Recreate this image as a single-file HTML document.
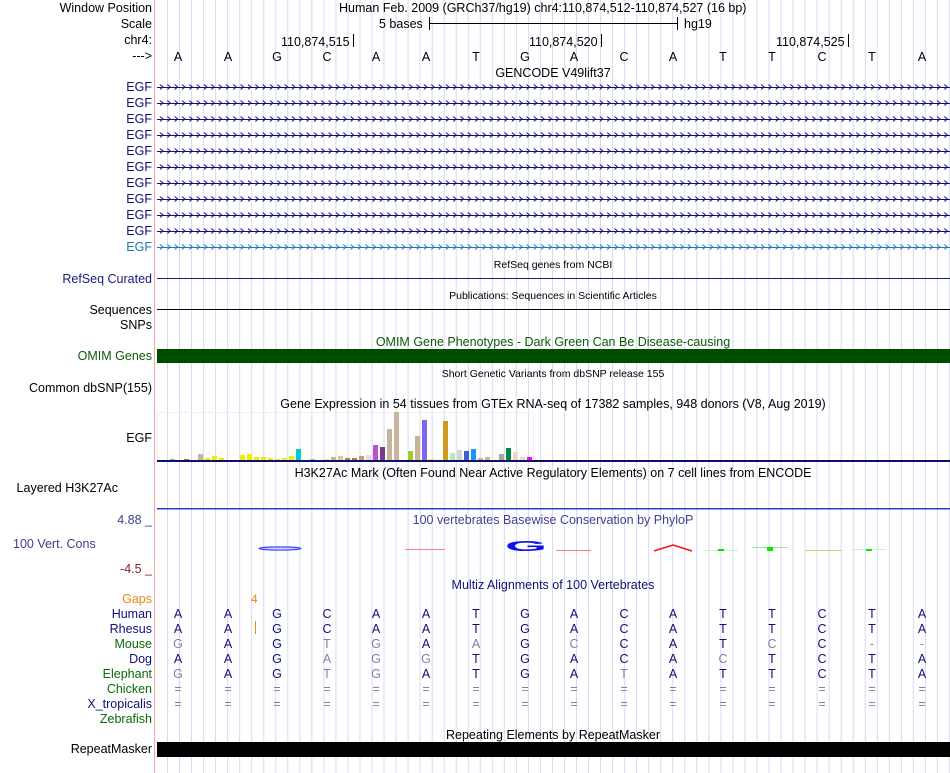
<!DOCTYPE html>
<html><head><meta charset="utf-8"><style>
html,body{margin:0;padding:0;background:#fff;}
svg{display:block;font-family:"Liberation Sans",sans-serif;}
</style></head><body>
<svg width="950" height="773" viewBox="0 0 950 773" xmlns="http://www.w3.org/2000/svg">
<defs>
<pattern id="grid" x="167" y="0" width="12.03" height="10" patternUnits="userSpaceOnUse">
<rect x="0" y="0" width="1" height="10" fill="#d8d8f4"/>
</pattern>
<pattern id="chevA" x="158" y="0" width="7.33" height="16" patternUnits="userSpaceOnUse">
<path d="M2,4.5 L5,7 L2,9.5" fill="none" stroke="#101078" stroke-width="1"/>
</pattern>
<pattern id="chevB" x="158" y="0" width="7.33" height="16" patternUnits="userSpaceOnUse">
<path d="M2,4.5 L5,7 L2,9.5" fill="none" stroke="#1f78b4" stroke-width="1"/>
</pattern>
</defs>
<rect x="157" y="0" width="793" height="773" fill="url(#grid)"/>
<rect x="154" y="0" width="1" height="773" fill="#f4a8a8"/>

<g font-size="12.5" fill="#000" text-anchor="end">
<text x="152" y="12">Window Position</text>
<text x="152" y="28">Scale</text>
<text x="152" y="44">chr4:</text>
<text x="152" y="60">---&gt;</text>
</g>
<g font-size="12.5" fill="#000">
<text x="339" y="12">Human Feb. 2009 (GRCh37/hg19)   chr4:110,874,512-110,874,527 (16 bp)</text>
<text x="379" y="28">5 bases</text>
<text x="684" y="28">hg19</text>
<text x="281" y="46">110,874,515</text>
<text x="529" y="46">110,874,520</text>
<text x="776" y="46">110,874,525</text>
</g>
<rect x="429" y="23" width="248" height="1" fill="#000"/>
<rect x="429" y="17" width="1" height="13" fill="#000"/>
<rect x="677" y="17" width="1" height="13" fill="#000"/>
<rect x="353" y="34" width="1" height="13" fill="#000"/>
<rect x="601" y="34" width="1" height="13" fill="#000"/>
<rect x="848" y="34" width="1" height="13" fill="#000"/>
<g font-size="12.5" fill="#000" text-anchor="middle">
<text x="178" y="61">A</text><text x="228" y="61">A</text><text x="277" y="61">G</text><text x="327" y="61">C</text>
<text x="376" y="61">A</text><text x="426" y="61">A</text><text x="476" y="61">T</text><text x="525" y="61">G</text>
<text x="574" y="61">A</text><text x="624" y="61">C</text><text x="673" y="61">A</text><text x="723" y="61">T</text>
<text x="772" y="61">T</text><text x="822" y="61">C</text><text x="872" y="61">T</text><text x="922" y="61">A</text>
<text x="553" y="77">GENCODE V49lift37</text>
</g>

<g font-size="12.5" fill="#101078" text-anchor="end">
<text x="152" y="91">EGF</text><text x="152" y="107">EGF</text><text x="152" y="123">EGF</text>
<text x="152" y="139">EGF</text><text x="152" y="155">EGF</text><text x="152" y="171">EGF</text>
<text x="152" y="187">EGF</text><text x="152" y="203">EGF</text><text x="152" y="219">EGF</text>
<text x="152" y="235">EGF</text><text x="152" y="251" fill="#1f78b4">EGF</text>
</g>
<g fill="#101078">
<rect x="157" y="87" width="793" height="1"/><rect x="157" y="103" width="793" height="1"/>
<rect x="157" y="119" width="793" height="1"/><rect x="157" y="135" width="793" height="1"/>
<rect x="157" y="151" width="793" height="1"/><rect x="157" y="167" width="793" height="1"/>
<rect x="157" y="183" width="793" height="1"/><rect x="157" y="199" width="793" height="1"/>
<rect x="157" y="215" width="793" height="1"/><rect x="157" y="231" width="793" height="1"/>
</g>
<rect x="157" y="247" width="793" height="1" fill="#1f78b4"/>
<rect x="157" y="80" width="793" height="160" fill="url(#chevA)"/>
<rect x="157" y="240" width="793" height="16" fill="url(#chevB)"/>

<text x="553" y="268" font-size="10.5" text-anchor="middle">RefSeq genes from NCBI</text>
<text x="152" y="283" font-size="12.5" fill="#1a1a80" text-anchor="end">RefSeq Curated</text>
<rect x="157" y="278" width="793" height="1" fill="#1a1a80"/>
<text x="553" y="299" font-size="10.5" text-anchor="middle">Publications: Sequences in Scientific Articles</text>
<text x="152" y="314" font-size="12.5" text-anchor="end">Sequences</text>
<rect x="157" y="309" width="793" height="1" fill="#000"/>
<text x="152" y="329" font-size="12.5" text-anchor="end">SNPs</text>
<text x="553" y="346" font-size="12.5" fill="#0a5a0a" text-anchor="middle">OMIM Gene Phenotypes - Dark Green Can Be Disease-causing</text>
<text x="152" y="360" font-size="12.5" fill="#0a5a0a" text-anchor="end">OMIM Genes</text>
<rect x="157" y="349" width="793" height="14" fill="#004d00"/>
<text x="553" y="377" font-size="10.5" text-anchor="middle">Short Genetic Variants from dbSNP release 155</text>
<text x="152" y="392" font-size="12.5" text-anchor="end">Common dbSNP(155)</text>

<text x="553" y="408" font-size="12.5" text-anchor="middle">Gene Expression in 54 tissues from GTEx RNA-seq of 17382 samples, 948 donors (V8, Aug 2019)</text>
<text x="152" y="442" font-size="12.5" text-anchor="end">EGF</text>
<rect x="157.5" y="412.5" width="376" height="48" fill="none" stroke="#f0f0f0" stroke-width="1"/>
<g>
<rect x="170" y="459" width="5" height="1" fill="#8fbc8f"/>
<rect x="184" y="459" width="5" height="1" fill="#e05050"/>
<rect x="198" y="454" width="5" height="6" fill="#c8b49a"/>
<rect x="205" y="458" width="5" height="2" fill="#eeee00"/>
<rect x="212" y="456" width="5" height="4" fill="#eeee00"/>
<rect x="219" y="458" width="5" height="2" fill="#eeee00"/>
<rect x="240" y="455" width="5" height="5" fill="#eeee00"/>
<rect x="247" y="454" width="5" height="6" fill="#eeee00"/>
<rect x="254" y="457" width="5" height="3" fill="#eeee00"/>
<rect x="261" y="457" width="5" height="3" fill="#eeee00"/>
<rect x="268" y="458" width="5" height="2" fill="#eeee00"/>
<rect x="275" y="459" width="5" height="1" fill="#eeee00"/>
<rect x="282" y="458" width="5" height="2" fill="#eeee00"/>
<rect x="289" y="456" width="5" height="4" fill="#eeee00"/>
<rect x="296" y="449" width="5" height="11" fill="#00cdd1"/>
<rect x="310" y="459" width="5" height="1" fill="#90c0c0"/>
<rect x="324" y="459" width="5" height="1" fill="#f0d8d8"/>
<rect x="331" y="457" width="5" height="3" fill="#c8b49a"/>
<rect x="338" y="456" width="5" height="4" fill="#eec591"/>
<rect x="345" y="458" width="5" height="2" fill="#a08060"/>
<rect x="352" y="458" width="5" height="2" fill="#a08060"/>
<rect x="359" y="456" width="5" height="4" fill="#cd9b6e"/>
<rect x="366" y="455" width="5" height="5" fill="#f0d8d8"/>
<rect x="373" y="445" width="5" height="15" fill="#b455d0"/>
<rect x="380" y="447" width="5" height="13" fill="#7a3a8a"/>
<rect x="387" y="429" width="5" height="31" fill="#c8b49a"/>
<rect x="394" y="412" width="5" height="48" fill="#c8b49a"/>
<rect x="408" y="451" width="5" height="9" fill="#9acd32"/>
<rect x="415" y="436" width="5" height="24" fill="#c8b49a"/>
<rect x="422" y="420" width="5" height="40" fill="#7b68ee"/>
<rect x="429" y="459" width="5" height="1" fill="#eeee00"/>
<rect x="443" y="421" width="5" height="39" fill="#cd9b1d"/>
<rect x="450" y="453" width="5" height="7" fill="#b4eeb4"/>
<rect x="457" y="450" width="5" height="10" fill="#d3d3d3"/>
<rect x="464" y="451" width="5" height="9" fill="#3a5fcd"/>
<rect x="471" y="449" width="5" height="11" fill="#1e90ff"/>
<rect x="478" y="458" width="5" height="2" fill="#c8b49a"/>
<rect x="485" y="457" width="5" height="3" fill="#c8b49a"/>
<rect x="499" y="454" width="5" height="6" fill="#a6a6a6"/>
<rect x="506" y="448" width="5" height="12" fill="#008b45"/>
<rect x="513" y="452" width="5" height="8" fill="#eed5d2"/>
<rect x="520" y="457" width="5" height="3" fill="#eed5d2"/>
<rect x="527" y="457" width="5" height="3" fill="#ff00ff"/>
</g>
<rect x="157" y="460" width="793" height="2" fill="#101068"/>

<text x="553" y="477" font-size="12.5" text-anchor="middle">H3K27Ac Mark (Often Found Near Active Regulatory Elements) on 7 cell lines from ENCODE</text>
<text x="118" y="492" font-size="12.5" text-anchor="end">Layered H3K27Ac</text>
<rect x="157" y="508" width="793" height="1.5" fill="#3838c8"/>

<text x="553" y="524" font-size="12.5" fill="#404090" text-anchor="middle">100 vertebrates Basewise Conservation by PhyloP</text>
<text x="152" y="524" font-size="12.5" fill="#404090" text-anchor="end">4.88 _</text>
<text x="13" y="548" font-size="12.5" fill="#404090">100 Vert. Cons</text>
<text x="152" y="573" font-size="12.5" fill="#8b2020" text-anchor="end">-4.5 _</text>
<ellipse cx="280" cy="548.5" rx="21" ry="1.6" fill="#c8d0ff" stroke="#2030ff" stroke-width="1"/>
<rect x="405" y="549" width="40" height="1" fill="#ff8080"/>
<text x="0" y="0" font-size="15" font-weight="bold" fill="#1010ee" transform="translate(505,551) scale(3.6,1)">G</text>
<rect x="556" y="550" width="35" height="1" fill="#ff8080"/>
<path d="M654,551 L673,545 L692,551" fill="none" stroke="#ff1010" stroke-width="1.5"/>
<rect x="703" y="550" width="35" height="1" fill="#c8f5c8"/>
<rect x="718" y="549" width="6" height="2" fill="#00dd00"/>
<rect x="752" y="547" width="36" height="1" fill="#90ee90"/>
<rect x="767" y="547" width="6" height="4" fill="#00ee00"/>
<rect x="805" y="550" width="37" height="1" fill="#d0d070"/>
<rect x="852" y="549" width="34" height="1" fill="#c8f5c8"/>
<rect x="866" y="549" width="6" height="2" fill="#00ee00"/>

<text x="553" y="589" font-size="12.5" fill="#101078" text-anchor="middle">Multiz Alignments of 100 Vertebrates</text>
<g font-size="12.5" text-anchor="end">
<text x="152" y="603" fill="#e88a10">Gaps</text>
<text x="152" y="618" fill="#101078">Human</text>
<text x="152" y="633" fill="#101078">Rhesus</text>
<text x="152" y="648" fill="#0a6a0a">Mouse</text>
<text x="152" y="663" fill="#101078">Dog</text>
<text x="152" y="678" fill="#0a6a0a">Elephant</text>
<text x="152" y="693" fill="#0a6a0a">Chicken</text>
<text x="152" y="708" fill="#101078">X_tropicalis</text>
<text x="152" y="723" fill="#0a6a0a">Zebrafish</text>
</g>
<text x="251" y="603" font-size="12" fill="#e88a10">4</text>
<rect x="255" y="621" width="1" height="13" fill="#e88a10"/>
<g font-size="12.5" text-anchor="middle" fill="#101078">
<g transform="translate(0,618)">
<text x="178">A</text><text x="228">A</text><text x="277">G</text><text x="327">C</text><text x="376">A</text><text x="426">A</text><text x="476">T</text><text x="525">G</text><text x="574">A</text><text x="624">C</text><text x="673">A</text><text x="723">T</text><text x="772">T</text><text x="822">C</text><text x="872">T</text><text x="922">A</text>
</g>
<g transform="translate(0,633)">
<text x="178">A</text><text x="228">A</text><text x="277">G</text><text x="327">C</text><text x="376">A</text><text x="426">A</text><text x="476">T</text><text x="525">G</text><text x="574">A</text><text x="624">C</text><text x="673">A</text><text x="723">T</text><text x="772">T</text><text x="822">C</text><text x="872">T</text><text x="922">A</text>
</g>
<g transform="translate(0,648)">
<text x="178" fill="#8080b0">G</text><text x="228">A</text><text x="277">G</text><text x="327" fill="#8080b0">T</text><text x="376" fill="#8080b0">G</text><text x="426">A</text><text x="476" fill="#8080b0">A</text><text x="525">G</text><text x="574" fill="#8080b0">C</text><text x="624">C</text><text x="673">A</text><text x="723">T</text><text x="772" fill="#8080b0">C</text><text x="822">C</text><text x="872" fill="#8080b0">-</text><text x="922" fill="#8080b0">-</text>
</g>
<g transform="translate(0,663)">
<text x="178">A</text><text x="228">A</text><text x="277">G</text><text x="327" fill="#8080b0">A</text><text x="376" fill="#8080b0">G</text><text x="426" fill="#8080b0">G</text><text x="476">T</text><text x="525">G</text><text x="574">A</text><text x="624">C</text><text x="673">A</text><text x="723" fill="#8080b0">C</text><text x="772">T</text><text x="822">C</text><text x="872">T</text><text x="922">A</text>
</g>
<g transform="translate(0,678)">
<text x="178" fill="#8080b0">G</text><text x="228">A</text><text x="277">G</text><text x="327" fill="#8080b0">T</text><text x="376" fill="#8080b0">G</text><text x="426">A</text><text x="476">T</text><text x="525">G</text><text x="574">A</text><text x="624" fill="#8080b0">T</text><text x="673">A</text><text x="723">T</text><text x="772">T</text><text x="822">C</text><text x="872">T</text><text x="922">A</text>
</g>
<g transform="translate(0,693)" fill="#8080b0">
<text x="178">=</text><text x="228">=</text><text x="277">=</text><text x="327">=</text><text x="376">=</text><text x="426">=</text><text x="476">=</text><text x="525">=</text><text x="574">=</text><text x="624">=</text><text x="673">=</text><text x="723">=</text><text x="772">=</text><text x="822">=</text><text x="872">=</text><text x="922">=</text>
</g>
<g transform="translate(0,708)" fill="#8080b0">
<text x="178">=</text><text x="228">=</text><text x="277">=</text><text x="327">=</text><text x="376">=</text><text x="426">=</text><text x="476">=</text><text x="525">=</text><text x="574">=</text><text x="624">=</text><text x="673">=</text><text x="723">=</text><text x="772">=</text><text x="822">=</text><text x="872">=</text><text x="922">=</text>
</g>
</g>

<text x="553" y="739" font-size="12.5" text-anchor="middle">Repeating Elements by RepeatMasker</text>
<text x="152" y="753" font-size="12.5" text-anchor="end">RepeatMasker</text>
<rect x="157" y="742" width="793" height="15" fill="#000"/>
</svg>
</body></html>
